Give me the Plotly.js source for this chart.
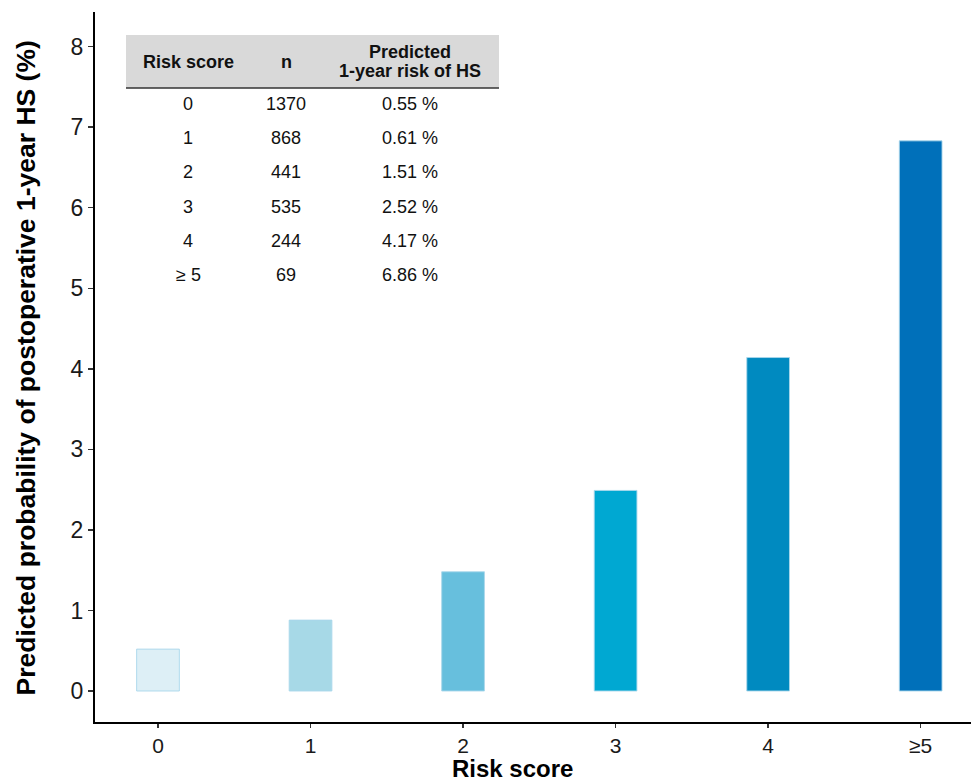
<!DOCTYPE html>
<html>
<head>
<meta charset="utf-8">
<script src="https://cdn.plot.ly/plotly-3.0.1.min.js"></script>
<style>html,body{margin:0;padding:0;background:#fff;}#chart{width:971px;height:783px;}</style>
</head>
<body>
<div id="chart"></div>
<script>
// Bar chart data
const categories = ["0", "1", "2", "3", "4", "≥5"];
const predictedProb = [0.52, 0.88, 1.48, 2.49, 4.14, 6.83];
const barColors = ["#DDEFF6", "#A7D9E7", "#67BFDD", "#00A8D2", "#008AC0", "#0070BA"];

// Inset table data
const tableHeader = ["Risk score", "n", "Predicted<br>1-year risk of HS"];
const tableRiskScore = ["0", "1", "2", "3", "4", "≥ 5"];
const tableN = ["1370", "868", "441", "535", "244", "69"];
const tableRisk = ["0.55 %", "0.61 %", "1.51 %", "2.52 %", "4.17 %", "6.86 %"];

const xTitle = "Risk score";
const yTitle = "Predicted probability of postoperative 1-year HS (%)";

const font = "Liberation Sans, Arial, sans-serif";

// plot area geometry in pixels (for converting layout positions to paper coords)
const W = 971, H = 783, mL = 95, mR = 0, mT = 12, mB = 61;
const pw = W - mL - mR, ph = H - mT - mB;
const px = v => (v - mL) / pw;
const py = v => (H - mB - v) / ph;

const bars = {
  type: "bar",
  x: categories,
  y: predictedProb,
  width: 0.28,
  marker: {color: barColors, line: {color: "rgba(170,215,235,0.9)", width: 1}},
  hoverinfo: "x+y",
  showlegend: false
};

// table layout (pixel positions)
const colCenters = [188, 286, 410];
const tblLeft = 126, tblRight = 499, hdrTop = 35, hdrBottom = 88;
const row0 = 104, rowStep = 34.2;

const annotations = [];
const tFont = {family: font, size: 18, color: "#111"};
tableHeader.forEach((h, i) => {
  const lines = h.split("<br>");
  const lh = 19;
  lines.forEach((ln, j) => {
    const yc = (hdrTop + hdrBottom) / 2 + (j - (lines.length - 1) / 2) * lh;
    annotations.push({xref: "paper", yref: "paper", x: px(colCenters[i]), y: py(yc),
      xanchor: "center", yanchor: "middle", showarrow: false,
      text: "<b>" + ln + "</b>", font: tFont});
  });
});
[tableRiskScore, tableN, tableRisk].forEach((col, i) => {
  col.forEach((v, r) => {
    annotations.push({xref: "paper", yref: "paper", x: px(colCenters[i]), y: py(row0 + r * rowStep),
      xanchor: "center", yanchor: "middle", showarrow: false, text: v, font: tFont});
  });
});
annotations.push({xref: "paper", yref: "paper", x: px(512), y: py(783), xanchor: "center", yanchor: "bottom",
  showarrow: false, text: "<b>" + xTitle + "</b>", font: {family: font, size: 24, color: "#000"}, borderpad: 0});
annotations.push({xref: "paper", yref: "paper", x: px(25), y: py(368.5), xanchor: "center", yanchor: "middle",
  textangle: -90, showarrow: false, text: "<b>" + yTitle + "</b>", font: {family: font, size: 26.5, color: "#000"}});

const layout = {
  width: W,
  height: H,
  margin: {l: mL, r: mR, t: mT, b: mB},
  paper_bgcolor: "#fff",
  plot_bgcolor: "#fff",
  font: {family: font, color: "#000"},
  xaxis: {
    type: "category",
    range: [-0.413, 5.33],
    showline: true, linecolor: "#000", linewidth: 2,
    ticks: "outside", ticklen: 4, tickwidth: 1.5, tickcolor: "#333",
    showgrid: false, zeroline: false,
    tickfont: {family: font, size: 21, color: "#1a1a1a"}
  },
  yaxis: {
    range: [-0.385, 8.43],
    dtick: 1, tick0: 0,
    showline: true, linecolor: "#000", linewidth: 2,
    ticks: "outside", ticklen: 5, tickwidth: 1.5, tickcolor: "#333",
    showgrid: false, zeroline: false,
    tickfont: {family: font, size: 23, color: "#1a1a1a"}
  },
  shapes: [
    {type: "rect", xref: "paper", yref: "paper", x0: px(tblLeft), x1: px(tblRight), y0: py(hdrBottom), y1: py(hdrTop),
      fillcolor: "#D9D9D9", line: {width: 0}, layer: "below"},
    {type: "line", xref: "paper", yref: "paper", x0: px(tblLeft), x1: px(tblRight), y0: py(hdrBottom), y1: py(hdrBottom),
      line: {color: "#333", width: 1.5}}
  ],
  annotations: annotations
};

Plotly.newPlot("chart", [bars], layout, {displayModeBar: false, staticPlot: true});
</script>
</body>
</html>
